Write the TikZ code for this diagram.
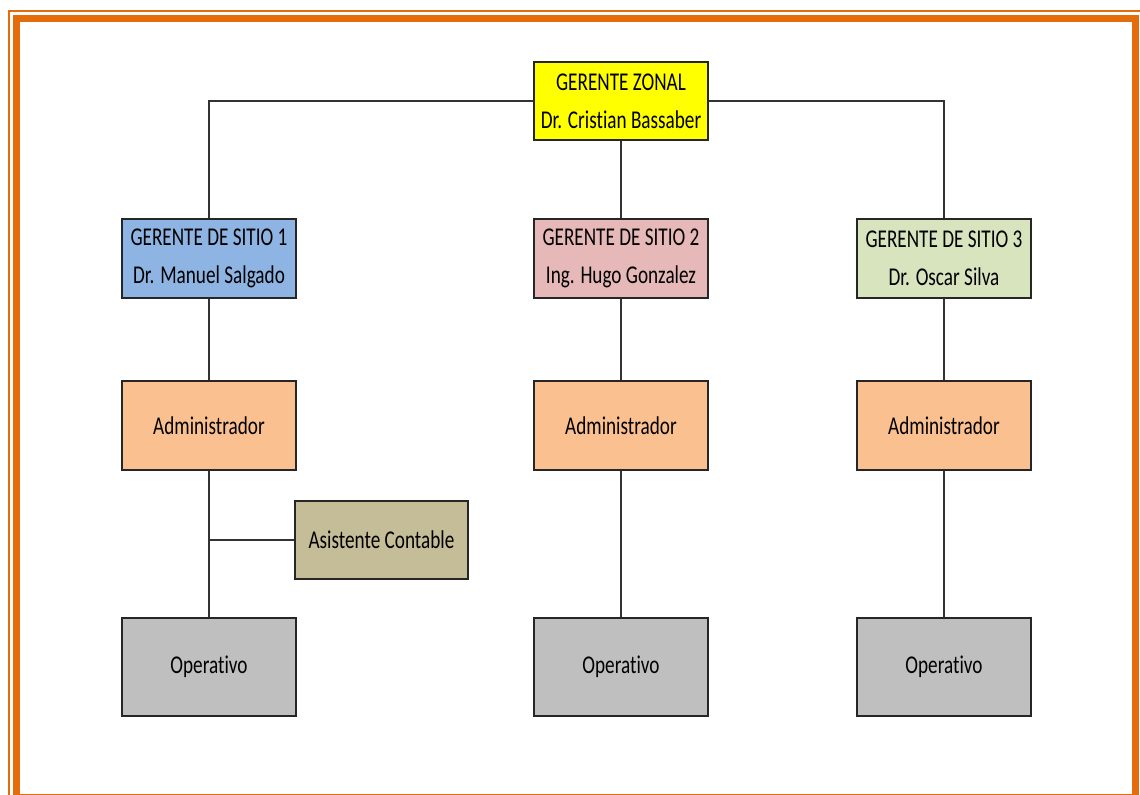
\documentclass[tikz,border=0pt]{standalone}
\usepackage{fontspec}
\setmainfont{Carlito}[FakeStretch=0.75, Ligatures={NoCommon,NoContextual}]
\usetikzlibrary{positioning}
\definecolor{marco}{HTML}{E46C0A}
\definecolor{amarillo}{HTML}{FFFF00}
\definecolor{azul}{HTML}{8DB4E2}
\definecolor{rosa}{HTML}{E6B9B8}
\definecolor{verde}{HTML}{D7E4BD}
\definecolor{naranja}{HTML}{FAC090}
\definecolor{cafe}{HTML}{C4BD97}
\definecolor{gris}{HTML}{BFBFBF}

\begin{document}
\begin{tikzpicture}[x=0.5pt, y=-0.5pt,
  cargo/.style={draw=black!85, line width=0.75pt, inner sep=0pt, align=center,
    font=\fontsize{12.8}{19}\selectfont, minimum width=87pt},
  jefe/.style={cargo, minimum height=39.5pt},
  admin/.style={cargo, fill=naranja, minimum height=44.5pt},
  oper/.style={cargo, fill=gris, minimum height=49pt},
  linea/.style={draw=black!80, line width=0.65pt}]
%	\draw [help lines] (0,0) grid (1140,794);
	\useasboundingbox (0,0) rectangle (1140,794);
	% marco
	\draw [marco, line width=1pt] (9,11) rectangle (1150,810);
	\draw [marco, line width=3.5pt] (16.5,18.5) rectangle (1135.5,797);
	% cajas
	\node [jefe, fill=amarillo, minimum height=39pt] (zonal) at (621,101) {GERENTE ZONAL\\Dr. Cristian Bassaber};
	\node [jefe, fill=azul] (sitio1) at (209,258.5) {GERENTE DE SITIO 1\\Dr. Manuel Salgado};
	\node [jefe, fill=rosa] (sitio2) at (621,258.5) {GERENTE DE SITIO 2\\Ing. Hugo Gonzalez};
	\node [jefe, fill=verde] (sitio3) at (944,258.5) {GERENTE DE SITIO 3\\Dr. Oscar Silva};
	\node [admin] (adm1) at (209,425.5) {Administrador};
	\node [admin] (adm2) at (621,425.5) {Administrador};
	\node [admin] (adm3) at (944,425.5) {Administrador};
	\node [cargo, fill=cafe, minimum width=86.5pt, minimum height=39pt] (asis) at (381.5,540) {Asistente Contable};
	\node [oper] (op1) at (209,667) {Operativo};
	\node [oper] (op2) at (621,667) {Operativo};
	\node [oper] (op3) at (944,667) {Operativo};
	% conectores
	\draw [linea] (zonal.west) -| (sitio1.north);
	\draw [linea] (zonal.east) -| (sitio3.north);
	\draw [linea] (zonal) -- (sitio2);
	\draw [linea] (sitio1) -- (adm1);
	\draw [linea] (sitio2) -- (adm2);
	\draw [linea] (sitio3) -- (adm3);
	\draw [linea] (adm1) -- (op1);
	\draw [linea] (adm2) -- (op2);
	\draw [linea] (adm3) -- (op3);
	\draw [linea] (asis.west) -- (asis.west -| adm1.south);
\end{tikzpicture}
\end{document}
